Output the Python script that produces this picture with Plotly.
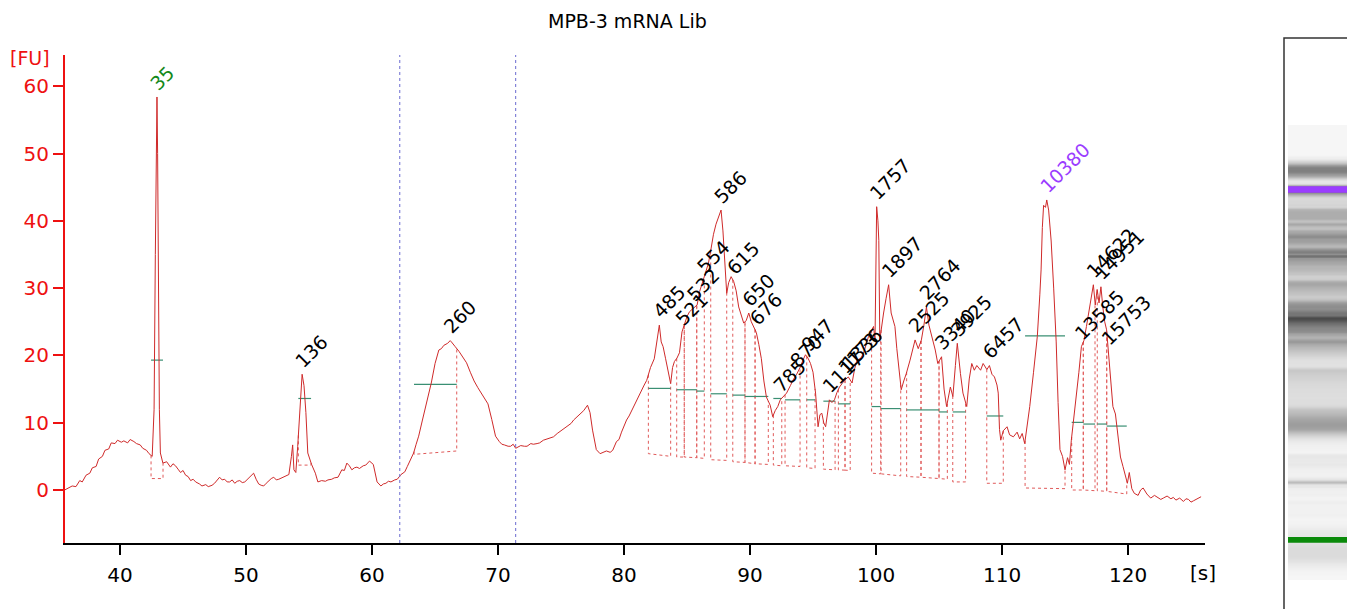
import numpy as np
import plotly.graph_objects as go

title = "MPB-3 mRNA Lib"

# ---- electropherogram trace: migration time [s] and fluorescence [FU] ----
time_s = [35.6, 35.9, 36.2, 36.5, 36.8, 37.0, 37.3, 37.6, 37.8, 38.1, 38.3, 38.6, 38.8, 39.1, 39.3,
          39.6, 39.8, 40.1, 40.3, 40.6, 40.8, 41.1, 41.3, 41.6, 41.8, 42.1, 42.3, 42.55,
          42.7, 42.8, 42.88, 42.93, 42.98, 43.05, 43.12, 43.2, 43.4, 43.7, 44.0, 44.2, 44.4, 44.6, 44.8,
          45.0, 45.2, 45.4, 45.6, 45.8, 46.0, 46.3, 46.5, 46.8, 47.0, 47.3, 47.5, 47.9, 48.1, 48.3,
          48.5, 48.7, 48.9, 49.1, 49.3, 49.5, 49.7, 49.9, 50.1, 50.3, 50.6, 50.8, 51.0, 51.2, 51.4,
          51.6, 51.8, 52.0, 52.2, 52.4, 52.6, 52.8, 53.0, 53.2, 53.4, 53.6, 53.7, 53.8, 53.95, 54.1,
          54.3, 54.45, 54.6, 54.75, 54.9, 55.2, 55.5, 55.7, 56.0, 56.3, 56.5, 56.8, 57.0, 57.3, 57.6,
          57.8, 58.0, 58.2, 58.4, 58.6, 58.8, 59.0, 59.3, 59.5, 59.8, 60.1, 60.4, 60.7, 60.9,
          61.1, 61.3, 61.5, 61.8, 62.0, 62.3, 62.6, 62.8, 63.1, 63.3, 63.5, 63.7, 64.0, 64.2, 64.4,
          64.7, 65.0, 65.3, 65.5, 65.7, 66.0, 66.2, 66.3, 66.5, 66.6, 66.9, 67.2, 67.5, 67.8, 68.1,
          68.4, 68.7, 69.0, 69.2, 69.5, 69.8, 70.1, 70.3, 70.5, 70.8, 71.0, 71.2, 71.4, 71.6, 71.8,
          72.1, 72.3, 72.6, 72.8, 73.1, 73.3, 73.6, 73.8, 74.1, 74.4, 74.7, 75.0, 75.3, 75.5, 75.8,
          76.0, 76.3, 76.5, 76.8, 77.1, 77.3, 77.5, 77.8, 78.1, 78.3, 78.6, 78.9, 79.1, 79.4, 79.6,
          79.8, 80.0, 80.2, 80.4, 80.6, 80.8, 81.0, 81.2, 81.4, 81.6, 81.8, 82.1, 82.4, 82.6, 82.8,
          82.95, 83.1, 83.3, 83.5, 83.7, 83.85, 84.0, 84.2, 84.4, 84.6, 84.8, 85.0, 85.2, 85.5, 85.8,
          86.0, 86.3, 86.5, 86.7, 86.9, 87.1, 87.3, 87.5, 87.7, 87.85, 88.0, 88.15, 88.3, 88.5, 88.7,
          88.9, 89.1, 89.3, 89.5, 89.7, 89.9, 90.1, 90.3, 90.5, 90.7, 90.9, 91.1, 91.3, 91.6, 91.8,
          92.0, 92.2, 92.4, 92.7, 92.9, 93.2, 93.4, 93.7, 94.0, 94.2, 94.4, 94.6, 94.8, 95.0, 95.2,
          95.4, 95.55, 95.7, 95.85, 96.0, 96.15, 96.3, 96.5, 96.7, 96.9, 97.1, 97.3, 97.5, 97.8, 98.1,
          98.3, 98.5, 98.8, 99.0, 99.2, 99.4, 99.6, 99.8, 99.92, 100.0, 100.05, 100.15, 100.22, 100.3,
          100.45, 100.6, 100.8, 101.0, 101.2, 101.5, 101.65, 101.8, 102.0, 102.2, 102.4, 102.7, 103.1,
          103.35, 103.6, 103.8, 104.0, 104.2, 104.45, 104.7, 104.9, 105.2, 105.4, 105.6, 105.9, 106.1,
          106.3, 106.45, 106.7, 106.9, 107.2, 107.4, 107.6, 107.8, 108.0, 108.3, 108.5, 108.8, 109.0,
          109.2, 109.4, 109.6, 109.7, 109.8, 109.9, 110.1, 110.4, 110.6, 110.9, 111.2, 111.4, 111.6,
          111.8, 112.0, 112.2, 112.5, 112.8, 113.0, 113.1, 113.2, 113.3, 113.45, 113.55, 113.7, 113.9,
          114.1, 114.3, 114.45, 114.6, 114.8, 115.0, 115.2, 115.35, 115.5, 115.7, 115.9, 116.1, 116.3,
          116.5, 116.7, 116.9, 117.1, 117.25, 117.4, 117.55, 117.7, 117.85, 118.0, 118.15, 118.3, 118.45,
          118.6, 118.8, 119.0, 119.2, 119.4, 119.6, 119.8, 119.95, 120.1, 120.3, 120.5, 120.8, 121.0,
          121.2, 121.5, 121.8, 122.1, 122.4, 122.6, 122.8, 123.1, 123.4, 123.6, 123.8, 124.1, 124.4,
          124.6, 124.8, 125.0, 125.2, 125.5, 125.8]
fu = [0.0, 0.3, 0.6, 0.5, 1.4, 1.2, 2.2, 2.5, 3.3, 3.5, 4.6, 5.0, 5.9, 6.1, 7.0,
      6.9, 7.4, 7.1, 7.3, 7.0, 7.5, 7.2, 6.9, 6.7, 6.2, 5.9, 5.4, 5.0,
      12.0, 35.0, 52.0, 58.4, 50.0, 30.0, 12.0, 5.5, 4.0, 4.2, 3.4, 3.9, 3.6, 3.1, 2.6,
      2.9, 2.2, 2.0, 1.4, 1.6, 1.2, 0.9, 0.6, 0.8, 0.5, 0.7, 1.0, 1.9, 1.5, 1.6,
      1.2, 1.2, 1.5, 1.0, 1.3, 1.4, 1.1, 1.2, 1.6, 2.0, 2.5, 1.6, 0.9, 0.7, 0.6,
      1.0, 1.4, 1.7, 1.9, 1.5, 1.6, 1.8, 2.0, 2.2, 2.3, 5.0, 6.7, 3.0, 2.6, 6.5,
      13.0, 17.2, 15.5, 11.5, 5.5, 3.8, 2.5, 1.2, 1.4, 1.3, 1.5, 1.6, 1.8, 1.9, 3.0,
      2.9, 4.0, 3.6, 3.0, 3.3, 3.4, 3.2, 3.6, 3.7, 4.3, 3.8, 1.2, 0.6, 0.9,
      1.0, 1.3, 1.2, 1.5, 1.6, 2.3, 2.7, 3.5, 4.6, 5.5, 6.8, 8.0, 10.4, 12.0, 13.5,
      15.9, 18.8, 20.8, 21.0, 21.5, 21.8, 22.2, 22.0, 21.6, 21.3, 20.6, 19.8, 18.9, 17.5, 16.2,
      15.2, 14.3, 13.6, 12.8, 10.5, 8.0, 7.2, 6.8, 6.7, 6.5, 6.5, 6.8, 6.2, 6.4, 6.6,
      6.5, 6.5, 6.9, 6.8, 6.9, 7.0, 7.4, 7.5, 7.7, 7.9, 8.4, 8.8, 9.3, 9.6, 9.9,
      10.4, 10.9, 11.3, 11.8, 12.6, 11.5, 8.9, 6.0, 5.4, 5.6, 5.8, 5.6, 5.9, 7.2, 7.5,
      8.6, 9.6, 10.4, 11.0, 11.8, 12.4, 13.4, 14.2, 14.8, 15.6, 16.3, 18.2, 19.5, 21.8, 24.5,
      22.0, 21.3, 19.5, 17.5, 15.8, 18.2, 19.1, 19.6, 20.4, 23.5, 24.8, 25.8, 26.5, 27.0, 27.5,
      29.5, 31.2, 32.4, 33.7, 35.8, 38.0, 39.5, 40.5, 41.6, 38.5, 33.5, 29.2, 30.8, 31.7, 31.0,
      29.6, 27.2, 26.0, 24.8, 25.2, 26.3, 25.0, 24.3, 23.4, 21.6, 19.5, 16.2, 13.8, 12.6, 10.9,
      11.8, 12.4, 13.4, 14.0, 14.4, 15.5, 16.3, 17.2, 18.3, 19.3, 20.1, 19.6, 18.8, 17.5, 14.4,
      9.4, 11.2, 11.4, 10.0, 9.4, 11.5, 13.4, 13.0, 13.4, 14.5, 15.3, 15.8, 16.3, 16.8, 15.9,
      18.0, 19.3, 19.6, 20.3, 21.5, 22.8, 23.5, 24.3, 22.3, 36.0, 42.1, 40.0, 37.1, 22.3,
      24.5, 26.3, 28.5, 30.5, 26.3, 24.3, 21.0, 18.3, 14.9, 16.2, 17.3, 19.3, 22.3,
      21.0, 22.3, 24.5, 27.2, 24.5, 22.8, 20.8, 18.8, 19.8, 15.0, 12.4, 15.3, 13.9,
      18.5, 21.8, 17.3, 14.4, 12.4, 16.5, 18.8, 17.8, 18.5, 17.8, 18.8, 17.9, 18.5,
      17.2, 16.8, 15.6, 14.4, 9.0, 7.4, 8.8, 9.4, 8.2, 7.9, 8.6, 7.6, 8.4,
      6.9, 9.5, 12.4, 17.5, 22.8, 29.0, 32.7, 39.0, 42.3, 42.0, 43.1, 41.6, 37.0,
      30.0, 22.0, 13.0, 6.0, 5.0, 3.0, 4.8, 3.8, 7.4, 10.5, 14.4, 17.5, 21.3,
      22.2, 24.3, 26.8, 28.8, 30.5, 27.5, 29.8, 27.8, 30.2, 27.2, 25.0, 23.8, 20.5,
      17.3, 12.4, 11.3, 8.5, 4.9, 3.5, 1.8, 1.0, 2.6, 0.2, -0.5, -0.8, 0.0,
      0.3, -0.6, -1.2, -0.8, -1.1, -1.4, -1.2, -0.9, -1.3, -1.1, -1.5, -1.2, -1.7,
      -1.3, -1.4, -1.8, -1.6, -1.3, -1.0]

# ---- peak table ----
peak_labels = ["35", "136", "260", "485", "521", "532", "554", "586", "615", "650", "676",
               "785", "870", "947", "1117", "1173", "1336", "1757", "1897", "2525", "2764",
               "3340", "3925", "6457", "10380", "13585", "14622", "14951", "15753"]
peak_start = [42.46, 54.15, 63.33, 81.93, 84.18, 84.78, 85.77, 86.88, 88.63, 89.60, 90.40,
              91.85, 92.78, 94.50, 95.82, 97.01, 97.54, 99.65, 100.40, 102.43, 103.57,
              105.00, 106.09, 108.79, 111.83, 115.53, 116.45, 117.56, 118.31]
peak_end = [43.41, 55.16, 66.72, 83.70, 84.78, 85.77, 86.37, 88.15, 89.60, 90.40, 91.45,
            92.52, 93.97, 95.16, 96.75, 97.54, 97.95, 100.37, 101.96, 103.57, 105.00,
            105.66, 107.11, 110.10, 115.00, 116.45, 117.38, 118.31, 119.90]
base_start = [1.7, 3.7, 5.3, 5.4, 4.9, 4.9, 4.8, 4.5, 4.2, 4.1, 3.9,
              3.7, 3.6, 3.3, 3.1, 3.0, 2.95, 2.5, 2.4, 2.0, 1.9,
              1.7, 1.2, 1.0, 0.3, 0.0, 0.0, -0.1, -0.2]
base_end = [1.7, 3.7, 5.8, 5.0, 4.9, 4.8, 4.7, 4.4, 4.1, 3.9, 3.8,
            3.6, 3.5, 3.2, 3.0, 2.95, 2.9, 2.4, 2.1, 1.9, 1.7,
            1.6, 1.2, 1.0, 0.2, 0.0, -0.1, -0.2, -0.6]
width_level = [19.3, 13.6, 15.7, 15.1, 14.9, 14.9, 14.7, 14.3, 14.1, 13.9, 13.9,
               13.6, 13.4, 13.4, 13.2, 12.8, 12.8, 12.4, 12.1, 11.9, 11.9,
               11.6, 11.6, 11.0, 22.9, 10.05, 9.8, 9.8, 9.5]
lower_marker = "35"
upper_marker = "10380"
analysis_region = [62.2, 71.4]
x_ticks = [40, 50, 60, 70, 80, 90, 100, 110, 120]
y_ticks = [0, 10, 20, 30, 40, 50, 60]

# ---- colours / fonts ----
TRACE_RED = "#cf2a2a"
AXIS_RED = "#ee1111"
GREEN_W = "#3a8f73"
MARKER_PURPLE = "#9b3dff"
FONT = "DejaVu Sans"

# page body has an 8px margin; lay out in window pixels and convert
OFF = 8
W, H = 1355 - OFF, 609 - OFF


def px(p):
    return (p - OFF) / W


def py(p):
    return 1 - (p - OFF) / H


t_arr = np.array(time_s)
f_arr = np.array(fu)

fig = go.Figure()

# dotted peak boundaries
dx, dy = [], []
for s, e, b0, b1 in zip(peak_start, peak_end, base_start, base_end):
    fs_ = float(np.interp(s, t_arr, f_arr))
    fe_ = float(np.interp(e, t_arr, f_arr))
    dx += [s, s, e, e, None]
    dy += [fs_, b0, b1, fe_, None]
fig.add_trace(go.Scatter(x=dx, y=dy, mode="lines", line=dict(color="#e05a5a", width=1, dash="dot"),
                         hoverinfo="skip", showlegend=False))

# green width lines
gx, gy = [], []
for s, e, lv in zip(peak_start, peak_end, width_level):
    gx += [s, e, None]
    gy += [lv, lv, None]
fig.add_trace(go.Scatter(x=gx, y=gy, mode="lines", line=dict(color=GREEN_W, width=1.2),
                         hoverinfo="skip", showlegend=False))

# main trace
fig.add_trace(go.Scatter(x=time_s, y=fu, mode="lines", line=dict(color=TRACE_RED, width=1),
                         showlegend=False))

# analysis region lines
for t in analysis_region:
    fig.add_shape(type="line", xref="x", yref="y domain", x0=t, x1=t, y0=0, y1=1,
                  line=dict(color="#6b6bd0", width=1, dash="dot"))

# peak labels
for lab, s, e in zip(peak_labels, peak_start, peak_end):
    m = (t_arr >= s) & (t_arr <= e)
    idx = np.argmax(np.where(m, f_arr, -1e9))
    col = "#14891a" if lab == lower_marker else (MARKER_PURPLE if lab == upper_marker else "black")
    fig.add_annotation(x=t_arr[idx], y=f_arr[idx], text=lab, textangle=-45, showarrow=False,
                       xanchor="left", yanchor="bottom", xshift=-14, yshift=0,
                       font=dict(family=FONT, size=19, color=col))

# ---- gel image ----
tgrid = np.arange(34.8, 126.7, 0.1)
gel = np.clip(np.interp(tgrid, t_arr, f_arr), 0, None)
kern = np.ones(5) / 5
gel = np.convolve(gel, kern, mode="same")
fig.add_trace(go.Heatmap(x=[0, 1], y=tgrid, z=[[v, v] for v in gel], xaxis="x2", yaxis="y2",
                         zmin=0, zmax=44, showscale=False, hoverinfo="skip",
                         colorscale=[[0, "#f6f6f6"], [0.12, "#e2e2e2"], [0.25, "#cdcdcd"],
                                     [0.45, "#a6a6a6"], [0.7, "#777777"], [1, "#3c3c3c"]]))
lm_t = t_arr[np.argmax(np.where(t_arr < 50, f_arr, -1e9))]
um_t = t_arr[np.argmax(np.where(t_arr > 111, f_arr, -1e9))]
fig.add_shape(type="rect", xref="x2", yref="y2", x0=-0.5, x1=1.5, y0=lm_t - 0.6, y1=lm_t + 0.6,
              fillcolor="#0a8a0a", line=dict(width=0))
fig.add_shape(type="rect", xref="x2", yref="y2", x0=-0.5, x1=1.5, y0=um_t - 0.65, y1=um_t + 0.65,
              fillcolor=MARKER_PURPLE, line=dict(width=0))
fig.add_shape(type="rect", xref="paper", yref="paper", x0=px(1284), x1=1.05, y0=-0.05, y1=py(38),
              line=dict(color="#333333", width=1.5), fillcolor="rgba(0,0,0,0)")

fig.update_layout(
    width=W, height=H, margin=dict(l=0, r=0, t=0, b=0),
    plot_bgcolor="white", paper_bgcolor="white",
    font=dict(family=FONT, size=20, color="black"),
    xaxis=dict(domain=[px(65), px(1205)], range=[35.63, 126.11], showgrid=False, zeroline=False,
               showline=True, linecolor="black", linewidth=2, ticks="outside", ticklen=10,
               tickwidth=2, tickcolor="black", tickvals=x_ticks, ticklabelstandoff=3,
               tickfont=dict(family=FONT, size=20, color="black")),
    yaxis=dict(domain=[py(543), py(55)], range=[-7.875, 64.64], showgrid=False, zeroline=False,
               showline=True, linecolor=AXIS_RED, linewidth=2, ticks="outside", ticklen=10,
               tickwidth=2, tickcolor=AXIS_RED, tickvals=y_ticks,
               tickfont=dict(family=FONT, size=20, color=AXIS_RED)),
    xaxis2=dict(domain=[px(1288), px(1352)], range=[-0.5, 1.5], visible=False, anchor="y2"),
    yaxis2=dict(domain=[py(580), py(125)], range=[34.84, 126.57], visible=False, anchor="x2"),
)

fig.add_annotation(xref="paper", yref="paper", x=px(627), y=1, text=title, showarrow=False,
                   xanchor="center", yanchor="top", font=dict(family=FONT, size=19, color="black"))
fig.add_annotation(xref="paper", yref="paper", x=0, y=py(58), text="[FU]", showarrow=False,
                   xanchor="left", yanchor="middle", font=dict(family=FONT, size=19, color=AXIS_RED))
fig.add_annotation(xref="paper", yref="paper", x=px(1203), y=py(573), text="[s]", showarrow=False,
                   xanchor="center", yanchor="middle", font=dict(family=FONT, size=20, color="black"))

fig.write_html("out.html")
